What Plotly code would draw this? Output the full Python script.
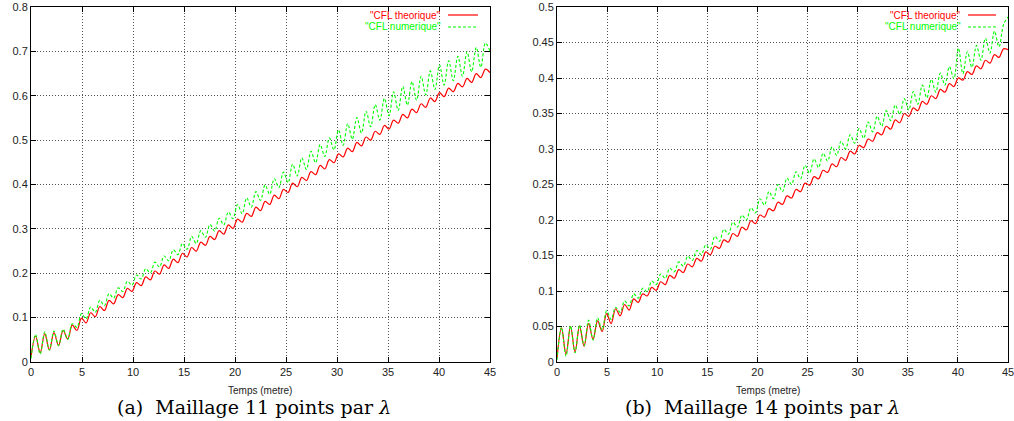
import plotly.graph_objects as go

# sample positions (metre), roughly at each crest / trough of the oscillation
temps = [0, 0.45, 0.9, 1.35, 1.8, 2.25, 2.7, 3.15, 3.6, 4.05, 4.5, 4.95, 5.4, 5.85, 6.3, 6.75, 7.2, 7.65,
         8.1, 8.55, 9.0, 9.45, 9.9, 10.35, 10.8, 11.25, 11.7, 12.15, 12.6, 13.05, 13.5, 13.95, 14.4, 14.85,
         15.3, 15.75, 16.2, 16.65, 17.1, 17.55, 18.0, 18.45, 18.9, 19.35, 19.8, 20.25, 20.7, 21.15, 21.6,
         22.05, 22.5, 22.95, 23.4, 23.85, 24.3, 24.75, 25.2, 25.65, 26.1, 26.55, 27.0, 27.45, 27.9, 28.35,
         28.8, 29.25, 29.7, 30.15, 30.6, 31.05, 31.5, 31.95, 32.4, 32.85, 33.3, 33.75, 34.2, 34.65, 35.1,
         35.55, 36.0, 36.45, 36.9, 37.35, 37.8, 38.25, 38.7, 39.15, 39.6, 40.05, 40.5, 40.95, 41.4, 41.85,
         42.3, 42.75, 43.2, 43.65, 44.1, 44.55, 45.0]

# (a) Maillage 11 points par lambda
cfl_theo_a = [0.012, 0.058, 0.021, 0.064, 0.027, 0.066, 0.037, 0.071, 0.052, 0.083, 0.071, 0.099, 0.088,
              0.111, 0.102, 0.125, 0.116, 0.139, 0.131, 0.152, 0.145, 0.166, 0.159, 0.179, 0.172, 0.192,
              0.185, 0.205, 0.198, 0.219, 0.211, 0.232, 0.224, 0.245, 0.237, 0.258, 0.250, 0.270, 0.263,
              0.283, 0.276, 0.296, 0.288, 0.309, 0.301, 0.322, 0.315, 0.335, 0.328, 0.349, 0.341, 0.362,
              0.355, 0.376, 0.368, 0.389, 0.382, 0.403, 0.395, 0.416, 0.409, 0.429, 0.422, 0.443, 0.435,
              0.456, 0.449, 0.469, 0.462, 0.482, 0.474, 0.495, 0.487, 0.507, 0.500, 0.520, 0.513, 0.533,
              0.525, 0.545, 0.538, 0.558, 0.550, 0.570, 0.562, 0.582, 0.574, 0.595, 0.587, 0.607, 0.598,
              0.617, 0.609, 0.628, 0.620, 0.639, 0.630, 0.650, 0.641, 0.660, 0.652]
cfl_num_a = [0.008, 0.062, 0.018, 0.068, 0.027, 0.070, 0.037, 0.074, 0.051, 0.086, 0.078, 0.109, 0.097,
             0.124, 0.112, 0.139, 0.127, 0.154, 0.144, 0.167, 0.159, 0.182, 0.173, 0.196, 0.187, 0.210,
             0.201, 0.225, 0.214, 0.239, 0.228, 0.253, 0.242, 0.267, 0.254, 0.283, 0.267, 0.296, 0.281,
             0.310, 0.295, 0.324, 0.309, 0.338, 0.323, 0.355, 0.334, 0.370, 0.349, 0.384, 0.364, 0.399,
             0.378, 0.413, 0.393, 0.428, 0.404, 0.446, 0.419, 0.460, 0.434, 0.475, 0.449, 0.490, 0.463,
             0.505, 0.478, 0.523, 0.488, 0.537, 0.502, 0.551, 0.516, 0.565, 0.530, 0.580, 0.545, 0.594,
             0.555, 0.609, 0.567, 0.621, 0.579, 0.632, 0.590, 0.644, 0.602, 0.656, 0.614, 0.669, 0.624,
             0.679, 0.634, 0.689, 0.644, 0.699, 0.654, 0.709, 0.664, 0.719, 0.700]

# (b) Maillage 14 points par lambda
cfl_theo_b = [0.005, 0.048, 0.011, 0.050, 0.014, 0.051, 0.022, 0.054, 0.032, 0.058, 0.043, 0.068, 0.054,
              0.075, 0.065, 0.081, 0.073, 0.089, 0.084, 0.096, 0.093, 0.105, 0.101, 0.113, 0.109, 0.122,
              0.118, 0.130, 0.126, 0.138, 0.134, 0.146, 0.142, 0.155, 0.151, 0.163, 0.160, 0.172, 0.169,
              0.181, 0.177, 0.190, 0.186, 0.199, 0.195, 0.207, 0.204, 0.216, 0.213, 0.225, 0.222, 0.234,
              0.231, 0.243, 0.240, 0.252, 0.249, 0.261, 0.258, 0.270, 0.267, 0.279, 0.275, 0.288, 0.284,
              0.297, 0.293, 0.305, 0.302, 0.314, 0.311, 0.323, 0.320, 0.332, 0.328, 0.341, 0.337, 0.350,
              0.346, 0.358, 0.354, 0.367, 0.363, 0.375, 0.371, 0.384, 0.380, 0.392, 0.388, 0.400, 0.397,
              0.409, 0.405, 0.417, 0.413, 0.425, 0.421, 0.433, 0.429, 0.441, 0.440]
cfl_num_b = [0.003, 0.049, 0.008, 0.051, 0.013, 0.052, 0.023, 0.059, 0.031, 0.062, 0.045, 0.072, 0.060,
             0.077, 0.070, 0.086, 0.079, 0.096, 0.090, 0.104, 0.099, 0.114, 0.109, 0.124, 0.118, 0.132,
             0.127, 0.141, 0.135, 0.149, 0.143, 0.157, 0.151, 0.165, 0.159, 0.177, 0.170, 0.187, 0.180,
             0.197, 0.190, 0.207, 0.200, 0.217, 0.210, 0.230, 0.221, 0.240, 0.230, 0.250, 0.240, 0.259,
             0.250, 0.268, 0.258, 0.277, 0.266, 0.286, 0.274, 0.294, 0.283, 0.303, 0.291, 0.311, 0.300,
             0.320, 0.308, 0.329, 0.315, 0.338, 0.324, 0.346, 0.332, 0.354, 0.340, 0.362, 0.349, 0.371,
             0.355, 0.381, 0.363, 0.390, 0.372, 0.398, 0.380, 0.407, 0.390, 0.416, 0.399, 0.442, 0.406,
             0.437, 0.415, 0.446, 0.425, 0.456, 0.435, 0.466, 0.444, 0.475, 0.486]

x_ticks = [0, 5, 10, 15, 20, 25, 30, 35, 40, 45]
y_ticks_a = [0, 0.1, 0.2, 0.3, 0.4, 0.5, 0.6, 0.7, 0.8]
y_ticks_b = [0, 0.05, 0.1, 0.15, 0.2, 0.25, 0.3, 0.35, 0.4, 0.45, 0.5]
series_names = ['"CFL theorique"', '"CFL numerique"']
x_title = "Temps (metre)"
captions = ["(a)  Maillage 11 points par <i>λ</i>", "(b)  Maillage 14 points par <i>λ</i>"]

RED = "#ff0000"
GREEN = "#00ff00"
W, H = 1014, 421
py = lambda p: 1 - p / H
px = lambda p: p / W

fig = go.Figure()
panels = [
    ("x", "y", cfl_theo_a, cfl_num_a),
    ("x2", "y2", cfl_theo_b, cfl_num_b),
]
for xa, ya, theo, num in panels:
    fig.add_trace(go.Scatter(x=temps, y=theo, xaxis=xa, yaxis=ya, mode="lines", name=series_names[0],
                             line=dict(color=RED, width=1.2, shape="spline", smoothing=1.0)))
    fig.add_trace(go.Scatter(x=temps, y=num, xaxis=xa, yaxis=ya, mode="lines", name=series_names[1],
                             line=dict(color=GREEN, width=1.1, dash="3px,2px", shape="spline", smoothing=1.0)))

font_tick = dict(family="Liberation Sans, Arial, sans-serif", size=11, color="#222")
axis_common = dict(showline=True, linecolor="black", linewidth=1, mirror="allticks",
                   ticks="inside", ticklen=5, tickcolor="black", tickwidth=1,
                   showgrid=True, gridcolor="#555", griddash="1px,2px", gridwidth=1,
                   zeroline=False, tickfont=font_tick, automargin=False,
                   ticklabeloverflow="allow")

y0, y1 = py(362), py(7)
fig.update_layout(
    width=W, height=H, autosize=False,
    margin=dict(l=0, r=0, t=0, b=0, autoexpand=False),
    paper_bgcolor="white", plot_bgcolor="white",
    showlegend=False,
    xaxis=dict(domain=[px(31), px(490)], range=[0, 45], tickvals=x_ticks,
               ticktext=[str(v) for v in x_ticks], anchor="y", **axis_common),
    yaxis=dict(domain=[y0, y1], range=[0, 0.8], tickvals=y_ticks_a,
               ticktext=[f"{v:g}" for v in y_ticks_a], anchor="x", **axis_common),
    xaxis2=dict(domain=[px(557), px(1008)], range=[0, 45], tickvals=x_ticks,
                ticktext=[str(v) for v in x_ticks], anchor="y2", **axis_common),
    yaxis2=dict(domain=[y0, y1], range=[0, 0.5], tickvals=y_ticks_b,
                ticktext=[f"{v:g}" for v in y_ticks_b], anchor="x2", **axis_common),
)

# axis titles and captions
for cx, cap in [(260, captions[0]), (768, captions[1])]:
    fig.add_annotation(x=px(cx), y=py(390), xref="paper", yref="paper", text=x_title,
                       showarrow=False, font=dict(family="Liberation Sans, Arial, sans-serif", size=10, color="#222"),
                       xanchor="center", yanchor="middle")
    fig.add_annotation(x=px(cx - 6), y=py(407), xref="paper", yref="paper", text=cap,
                       showarrow=False, font=dict(family="DejaVu Serif, serif", size=19, color="black"),
                       xanchor="center", yanchor="middle")

# gnuplot-style keys (text on the left of the sample line)
for text_end, l0, l1 in [(443, 448, 478), (963, 968, 996)]:
    for row, (name, col, dash) in enumerate([(series_names[0], RED, "solid"), (series_names[1], GREEN, "3px,2px")]):
        yy = py(15 + row * 12)
        fig.add_annotation(x=px(text_end), y=yy, xref="paper", yref="paper", text=name, showarrow=False,
                           font=dict(family="Liberation Sans, Arial, sans-serif", size=10, color=col),
                           xanchor="right", yanchor="middle")
        fig.add_shape(type="line", xref="paper", yref="paper", x0=px(l0), x1=px(l1), y0=yy, y1=yy,
                      line=dict(color=col, width=1.2, dash=dash))

fig.write_html("out.html", config={"displayModeBar": False},
               post_script="document.body.style.margin='0';document.body.style.overflow='hidden';")
